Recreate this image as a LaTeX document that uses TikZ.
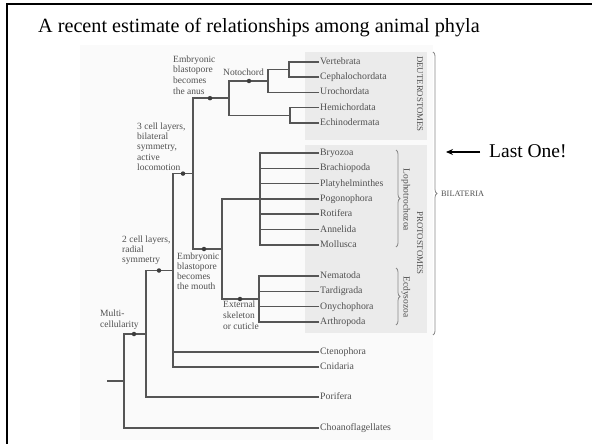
\documentclass[tikz,border=0pt]{standalone}
\usepackage{fontspec}
\setmainfont{Liberation Serif}
\usetikzlibrary{decorations.pathreplacing,arrows.meta}
\definecolor{treeline}{HTML}{555555}
\definecolor{treetext}{HTML}{505050}
\definecolor{boxfill}{HTML}{EBEBEB}
\definecolor{bgfill}{HTML}{FAFAFA}
\begin{document}
\begin{tikzpicture}[x=1pt,y=-1pt,
  br/.style={draw=treeline,line width=1.5pt},
  leaf/.style={anchor=west,inner xsep=1pt,inner ysep=0pt,text height=7pt,text depth=2pt,font=\fontsize{9.8}{10}\selectfont,text=treetext},
  trait/.style={anchor=north west,inner sep=0pt,align=left,text=treetext},
  dotmark/.style={circle,fill=treeline!70!black,inner sep=0pt,minimum size=4.5pt},
  grp/.style={text=treetext,inner sep=0pt},
  brc/.style={draw=treeline!70,line width=0.8pt,decorate,decoration={brace,amplitude=4pt}},
]
\useasboundingbox (0,0) rectangle (592,444);
% background of the figure
\fill[bgfill] (80,45) rectangle (433,440);
\fill[boxfill] (305,52) rectangle (427,140);
\fill[boxfill] (305,145) rectangle (427,333);
% slide frame
\draw[line width=2pt] (7,446) -- (7,4) -- (594,4);
% title
\node[anchor=base west,inner sep=0pt,font=\fontsize{20.2}{23}\selectfont] (title) at (38,33) {A recent estimate of relationships among animal phyla};
% leaves
\node[leaf] (vert)  at (319,62)    {Vertebrata};
\node[leaf] (ceph)  at (319,77)    {Cephalochordata};
\node[leaf] (uro)   at (319,92.3)  {Urochordata};
\node[leaf] (hemi)  at (319,107.7) {Hemichordata};
\node[leaf] (echi)  at (319,123)   {Echinodermata};
\node[leaf] (bryo)  at (319,153)   {Bryozoa};
\node[leaf] (brach) at (319,168.3) {Brachiopoda};
\node[leaf] (platy) at (319,183.6) {Platyhelminthes};
\node[leaf] (pogo)  at (319,199)   {Pogonophora};
\node[leaf] (roti)  at (319,214.2) {Rotifera};
\node[leaf] (anne)  at (319,229.5) {Annelida};
\node[leaf] (moll)  at (319,244.8) {Mollusca};
\node[leaf] (nema)  at (319,276)   {Nematoda};
\node[leaf] (tard)  at (319,291.3) {Tardigrada};
\node[leaf] (onyc)  at (319,306.6) {Onychophora};
\node[leaf] (arth)  at (319,322)   {Arthropoda};
\node[leaf] (cten)  at (319,352)   {Ctenophora};
\node[leaf] (cnid)  at (319,367)   {Cnidaria};
\node[leaf] (pori)  at (319,397)   {Porifera};
\node[leaf] (choa)  at (319,428)   {Choanoflagellates};
% internal nodes
\coordinate (vc)   at (289,69.5);
\coordinate (noto) at (268,81);
\coordinate (he)   at (290,115.4);
\coordinate (deut) at (229,98.2);
\coordinate (loph) at (260,199);
\coordinate (ecd)  at (259,299);
\coordinate (prot) at (222,249);
\coordinate (bil)  at (193,173.6);
\coordinate (eum)  at (173,270.5);
\coordinate (met)  at (146,334);
\coordinate (root) at (124,381);
\coordinate (stub) at (107,381);
% branches
\draw[br] (vert.west) -| (vc);
\draw[br] (ceph.west) -| (vc);
\draw[br] (vc) -| (noto);
\draw[br] (uro.west) -| (noto);
\draw[br] (hemi.west) -| (he);
\draw[br] (echi.west) -| (he);
\draw[br] (noto) -| (deut);
\draw[br] (he) -| (deut);
\foreach \l in {bryo,brach,platy,pogo,roti,anne,moll} \draw[br] (\l.west) -| (loph);
\foreach \l in {nema,tard,onyc,arth} \draw[br] (\l.west) -| (ecd);
\draw[br] (loph) -| (prot);
\draw[br] (ecd) -| (prot);
\draw[br] (deut) -| (bil);
\draw[br] (prot) -| (bil);
\draw[br] (bil) -| (eum);
\draw[br] (cten.west) -| (eum);
\draw[br] (cnid.west) -| (eum);
\draw[br] (eum) -| (met);
\draw[br] (pori.west) -| (met);
\draw[br] (met) -| (root);
\draw[br] (choa.west) -| (root);
\draw[br] (stub) -- (root);
% trait marks
\path (noto) ++(-19,0) node[dotmark] (dnoto) {};
\path (deut) ++(-19,0) node[dotmark] (ddeut) {};
\path (bil)  ++(-10,0) node[dotmark] (dbil) {};
\path (prot) ++(-18,0) node[dotmark] (dprot) {};
\path (ecd)  ++(-19,0) node[dotmark] (decd) {};
\path (eum)  ++(-14,0) node[dotmark] (deum) {};
\path (met)  ++(-12,0) node[dotmark] (dmet) {};
% trait labels
\node[trait,font=\fontsize{9.5}{10.7}\selectfont] (lanus) at (173,55.5) {Embryonic\\blastopore\\becomes\\the anus};
\node[trait,font=\fontsize{9.5}{10.7}\selectfont] (lnoto) at (223,68.5) {Notochord};
\node[trait,font=\fontsize{9.5}{10.3}\selectfont] (lthree) at (137,122.5) {3 cell layers,\\bilateral\\symmetry,\\active\\locomotion};
\node[trait,font=\fontsize{9.5}{10.2}\selectfont] (ltwo) at (122,235.5) {2 cell layers,\\radial\\symmetry};
\node[trait,font=\fontsize{9.5}{10.2}\selectfont] (lmouth) at (177,252.5) {Embryonic\\blastopore\\becomes\\the mouth};
\node[trait,font=\fontsize{9.5}{11}\selectfont] (lext) at (223,300.5) {External\\skeleton\\or cuticle};
\node[trait,font=\fontsize{9.5}{11}\selectfont] (lmulti) at (100,309.5) {Multi-\\cellularity};
% group labels
\node[grp,rotate=-90,font=\fontsize{8.8}{9}\selectfont] (gdeut) at (420,94) {DEUTEROSTOMES};
\node[grp,rotate=-90,font=\fontsize{8.8}{9}\selectfont] (gprot) at (420,243) {PROTOSTOMES};
\node[grp,rotate=-90,font=\fontsize{9.5}{10}\selectfont] (gloph) at (406,200) {Lophotrochozoa};
\node[grp,rotate=-90,font=\fontsize{9.5}{10}\selectfont] (gecd) at (406,297) {Ecdysozoa};
\node[grp,anchor=west,font=\fontsize{8.3}{9}\selectfont] (gbil) at (441,193.5) {BILATERIA};
\coordinate (bl1) at (396,150);
\coordinate (bl2) at (396,247);
\coordinate (be1) at (396,268);
\coordinate (be2) at (396,325);
\coordinate (bb1) at (433,52);
\coordinate (bb2) at (433,335);
\draw[brc] (bl1) -- (bl2);
\draw[brc] (be1) -- (be2);
\draw[brc] (bb1) -- (bb2);
% annotation
\node[anchor=base west,inner sep=0pt,font=\fontsize{19.5}{22}\selectfont] (last) at (489,157) {Last One!};
\coordinate (arrtail) at (480,152);
\coordinate (arrtip) at (446,152);
\draw[line width=1.4pt,-{Stealth[length=7pt,width=6pt]}] (arrtail) -- (arrtip);
\end{tikzpicture}
\end{document}
